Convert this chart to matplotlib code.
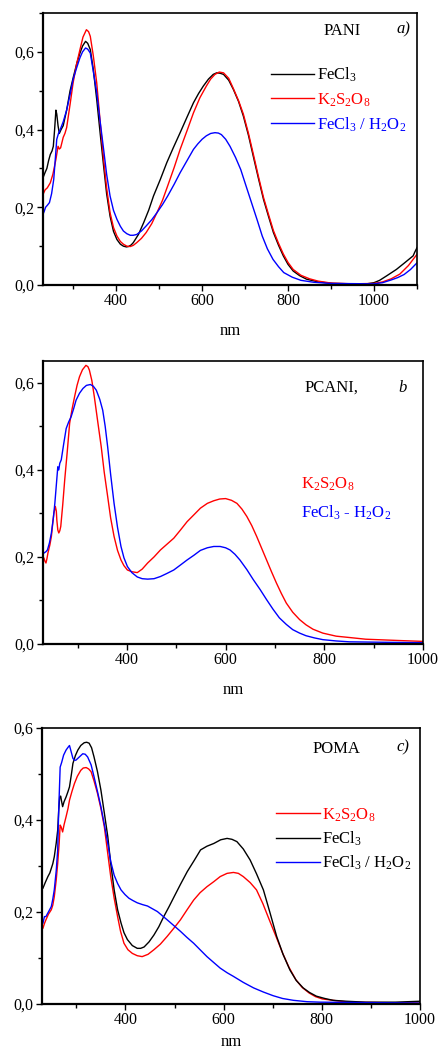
import matplotlib
matplotlib.use("Agg")
import matplotlib.pyplot as plt
from matplotlib.ticker import FuncFormatter, MultipleLocator

plt.rcParams['font.family'] = ['Liberation Serif', 'DejaVu Serif']
plt.rcParams['mathtext.fontset'] = 'custom'
plt.rcParams['mathtext.rm'] = 'Liberation Serif'
plt.rcParams['mathtext.it'] = 'Liberation Serif:italic'

# ---------------- Panel a: PANI ----------------
a_black_x = [230, 235, 239, 243, 247, 251, 254, 257, 260, 262, 265, 268, 272, 277, 281, 285, 293, 301, 309, 316,
             322, 329, 334, 340, 347, 355, 363, 371, 378, 386, 394, 402, 410, 417, 424, 429, 435, 440, 452, 464,
             476, 487, 503, 518, 533, 549, 565, 580, 592, 603, 615, 626, 634, 642, 650, 662, 673, 685, 696, 708,
             719, 731, 743, 755, 766, 778, 789, 800, 812, 827, 843, 870, 905, 950, 983, 1000, 1013, 1030, 1052,
             1070, 1091, 1095, 1100]
a_black_y = [0.276, 0.29, 0.30, 0.32, 0.336, 0.345, 0.357, 0.40, 0.45, 0.44, 0.41, 0.39, 0.40, 0.41, 0.43, 0.45,
             0.50, 0.537, 0.572, 0.597, 0.615, 0.627, 0.622, 0.606, 0.555, 0.477, 0.39, 0.306, 0.235, 0.177, 0.138,
             0.117, 0.105, 0.10, 0.098, 0.099, 0.103, 0.109, 0.13, 0.16, 0.193, 0.229, 0.272, 0.315, 0.353, 0.392,
             0.432, 0.469, 0.493, 0.512, 0.53, 0.542, 0.546, 0.545, 0.542, 0.527, 0.503, 0.472, 0.435, 0.385, 0.332,
             0.275, 0.22, 0.175, 0.135, 0.102, 0.075, 0.053, 0.036, 0.024, 0.015, 0.008, 0.004, 0.003, 0.003,
             0.006, 0.012, 0.024, 0.04, 0.056, 0.075, 0.085, 0.096]
a_red_x = [230, 235, 240, 247, 253, 260, 265, 268, 271, 277, 281, 285, 293, 300, 308, 316, 323, 331, 336, 340,
           347, 355, 363, 371, 378, 386, 394, 402, 410, 417, 425, 433, 440, 448, 459, 470, 483, 495, 508, 520,
           535, 549, 565, 580, 595, 610, 620, 630, 640, 650, 662, 673, 685, 696, 708, 719, 731, 743, 755, 766,
           778, 789, 800, 812, 830, 850, 870, 900, 950, 1000, 1020, 1040, 1060, 1080, 1100]
a_red_y = [0.233, 0.245, 0.25, 0.263, 0.285, 0.323, 0.357, 0.35, 0.353, 0.38, 0.39, 0.405, 0.465, 0.52, 0.568,
           0.606, 0.638, 0.657, 0.652, 0.64, 0.59, 0.52, 0.42, 0.323, 0.25, 0.186, 0.148, 0.126, 0.112, 0.105, 0.10,
           0.099, 0.102, 0.109, 0.12, 0.135, 0.158, 0.186, 0.218, 0.255, 0.302, 0.349, 0.397, 0.443, 0.482, 0.512,
           0.53, 0.542, 0.548, 0.546, 0.532, 0.505, 0.474, 0.44, 0.39, 0.338, 0.28, 0.225, 0.18, 0.14, 0.107, 0.08,
           0.058, 0.04, 0.025, 0.016, 0.01, 0.005, 0.003, 0.004, 0.008, 0.016, 0.028, 0.05, 0.079]
a_blue_x = [230, 233, 236, 240, 245, 250, 255, 259, 262, 266, 270, 277, 285, 293, 300, 308, 316, 322, 329, 334,
            340, 347, 355, 363, 371, 378, 386, 394, 402, 410, 417, 425, 433, 440, 448, 459, 470, 483, 495, 508,
            520, 535, 549, 565, 580, 590, 600, 610, 620, 630, 638, 645, 655, 665, 678, 690, 702, 715, 728, 740,
            752, 765, 778, 790, 810, 830, 860, 900, 1000, 1020, 1040, 1055, 1070, 1085, 1100]
a_blue_y = [0.182, 0.19, 0.20, 0.205, 0.212, 0.235, 0.272, 0.33, 0.375, 0.39, 0.40, 0.42, 0.45, 0.49, 0.529,
            0.558, 0.585, 0.60, 0.61, 0.607, 0.597, 0.55, 0.495, 0.42, 0.349, 0.285, 0.229, 0.192, 0.169, 0.151,
            0.139, 0.132, 0.128, 0.128, 0.13, 0.139, 0.152, 0.168, 0.186, 0.207, 0.229, 0.259, 0.289, 0.32, 0.349,
            0.363, 0.375, 0.384, 0.39, 0.392, 0.391, 0.387, 0.375, 0.357, 0.328, 0.297, 0.256, 0.212, 0.168, 0.126,
            0.093, 0.066, 0.047, 0.032, 0.02, 0.012, 0.007, 0.004, 0.003, 0.006, 0.013, 0.019, 0.027, 0.04, 0.057]

# ---------------- Panel b: PCANI ----------------
b_red_x = [232, 234, 236, 238, 240, 244, 247, 250, 252, 255, 257, 258, 260, 262, 264, 266, 270, 274, 279, 284,
           289, 294, 299, 304, 310, 317, 321, 324, 329, 334, 341, 348, 354, 361, 367, 374, 381, 388, 394, 401,
           410, 421, 431, 442, 455, 468, 481, 495, 508, 522, 536, 549, 563, 576, 588, 600, 612, 623, 633, 643,
           653, 663, 673, 683, 693, 703, 713, 723, 736, 750, 763, 777, 797, 824, 850, 884, 951, 1000]
b_red_y = [0.197, 0.19, 0.186, 0.196, 0.209, 0.228, 0.247, 0.28, 0.30, 0.316, 0.305, 0.285, 0.262, 0.255, 0.26,
           0.27, 0.32, 0.377, 0.44, 0.507, 0.54, 0.568, 0.594, 0.614, 0.63, 0.64, 0.637, 0.629, 0.605, 0.568, 0.51,
           0.453, 0.395, 0.339, 0.29, 0.247, 0.215, 0.193, 0.18, 0.17, 0.166, 0.164, 0.172, 0.186, 0.20, 0.216,
           0.229, 0.243, 0.261, 0.281, 0.297, 0.312, 0.323, 0.329, 0.333, 0.334, 0.33, 0.323, 0.31, 0.293, 0.272,
           0.247, 0.22, 0.193, 0.166, 0.14, 0.116, 0.094, 0.073, 0.056, 0.044, 0.034, 0.025, 0.018, 0.015, 0.011,
           0.008, 0.006]
b_blue_x = [232, 236, 239, 243, 247, 251, 254, 257, 260, 261, 262, 264, 267, 272, 277, 282, 287, 292, 297, 304,
            311, 318, 326, 332, 338, 345, 351, 356, 361, 367, 374, 381, 388, 394, 401, 410, 421, 431, 442, 455,
            468, 481, 495, 508, 522, 536, 549, 563, 576, 589, 600, 609, 619, 629, 643, 656, 670, 683, 696, 709,
            723, 736, 750, 763, 780, 797, 824, 851, 918, 1000]
b_blue_y = [0.209, 0.212, 0.216, 0.232, 0.255, 0.29, 0.323, 0.365, 0.407, 0.40, 0.40, 0.415, 0.423, 0.46, 0.495,
            0.51, 0.522, 0.54, 0.56, 0.576, 0.587, 0.594, 0.596, 0.592, 0.583, 0.562, 0.537, 0.50, 0.453, 0.39,
            0.323, 0.268, 0.224, 0.198, 0.178, 0.164, 0.154, 0.15, 0.149, 0.15, 0.155, 0.162, 0.17, 0.181, 0.193,
            0.204, 0.215, 0.221, 0.224, 0.224, 0.221, 0.216, 0.206, 0.193, 0.171, 0.148, 0.125, 0.102, 0.08, 0.06,
            0.045, 0.033, 0.025, 0.019, 0.014, 0.01, 0.007, 0.005, 0.004, 0.003]

# ---------------- Panel c: POMA ----------------
c_black_x = [232, 237, 242, 246, 249, 252, 255, 259, 262, 264, 266, 268, 270, 272, 275, 279, 283, 286, 290, 293,
             298, 303, 309, 316, 321, 326, 331, 336, 343, 350, 357, 364, 370, 377, 384, 391, 397, 404, 414, 424,
             431, 438, 448, 458, 468, 478, 489, 499, 512, 526, 540, 553, 566, 580, 594, 607, 617, 627, 640, 654,
             667, 681, 694, 708, 721, 735, 748, 762, 775, 789, 806, 823, 850, 889, 950, 1000]
c_black_y = [0.252, 0.265, 0.277, 0.285, 0.295, 0.305, 0.32, 0.35, 0.378, 0.42, 0.45, 0.452, 0.44, 0.429, 0.44,
             0.45, 0.462, 0.472, 0.50, 0.523, 0.54, 0.552, 0.562, 0.568, 0.569, 0.567, 0.557, 0.537, 0.505, 0.465,
             0.415, 0.364, 0.305, 0.248, 0.205, 0.176, 0.155, 0.14, 0.127, 0.121, 0.121, 0.124, 0.135, 0.15, 0.168,
             0.19, 0.212, 0.233, 0.26, 0.288, 0.312, 0.335, 0.343, 0.349, 0.357, 0.36, 0.358, 0.353, 0.337, 0.313,
             0.283, 0.248, 0.20, 0.147, 0.108, 0.074, 0.051, 0.035, 0.025, 0.017, 0.012, 0.008, 0.006, 0.004, 0.004,
             0.006]
c_red_x = [232, 235, 238, 243, 249, 252, 255, 259, 262, 265, 267, 269, 272, 275, 279, 283, 286, 291, 296, 302,
           309, 314, 320, 325, 330, 336, 343, 350, 357, 363, 370, 377, 384, 390, 397, 405, 414, 424, 434, 446,
           458, 471, 485, 498, 512, 525, 539, 552, 566, 580, 593, 607, 620, 630, 640, 654, 667, 680, 693, 707,
           720, 733, 747, 760, 774, 787, 801, 830, 857, 920, 1000]
c_red_y = [0.165, 0.175, 0.183, 0.195, 0.205, 0.215, 0.233, 0.27, 0.306, 0.35, 0.389, 0.385, 0.374, 0.39, 0.407,
           0.425, 0.443, 0.462, 0.479, 0.495, 0.508, 0.513, 0.514, 0.511, 0.505, 0.485, 0.458, 0.425, 0.385, 0.335,
           0.277, 0.23, 0.19, 0.158, 0.132, 0.118, 0.11, 0.105, 0.103, 0.108, 0.118, 0.13, 0.147, 0.164, 0.183,
           0.204, 0.226, 0.242, 0.255, 0.266, 0.277, 0.284, 0.286, 0.284, 0.277, 0.264, 0.248, 0.218, 0.183, 0.146,
           0.111, 0.08, 0.053, 0.036, 0.024, 0.016, 0.011, 0.007, 0.004, 0.003, 0.002]
c_blue_x = [232, 235, 238, 243, 249, 252, 255, 259, 262, 264, 267, 270, 274, 279, 283, 286, 289, 293, 296, 299,
            305, 313, 318, 323, 330, 336, 343, 350, 357, 364, 370, 377, 384, 391, 399, 407, 415, 424, 435, 445,
            455, 465, 475, 485, 498, 512, 525, 539, 552, 566, 580, 593, 607, 620, 640, 661, 681, 701, 720, 742,
            770, 796, 900, 1000]
c_blue_y = [0.176, 0.19, 0.19, 0.20, 0.212, 0.228, 0.248, 0.29, 0.335, 0.42, 0.515, 0.525, 0.541, 0.552, 0.558,
            0.562, 0.55, 0.534, 0.53, 0.53, 0.536, 0.544, 0.543, 0.537, 0.52, 0.494, 0.462, 0.429, 0.39, 0.349,
            0.31, 0.28, 0.262, 0.248, 0.238, 0.23, 0.225, 0.22, 0.216, 0.213, 0.207, 0.201, 0.192, 0.183, 0.171,
            0.158, 0.145, 0.132, 0.118, 0.103, 0.09, 0.078, 0.068, 0.06, 0.047, 0.035, 0.026, 0.018, 0.012, 0.008,
            0.005, 0.004, 0.003, 0.002]

BLACK, RED, BLUE = '#000000', '#ff0000', '#0000ff'
lw = 1.0

W, H = 439, 1051
fig = plt.figure(figsize=(W / 100, H / 100), dpi=100)


def make_ax(l, t, r, b):
    return fig.add_axes([l / W, 1 - b / H, (r - l) / W, (b - t) / H])


comma = FuncFormatter(lambda v, p: f"{v:.1f}".replace('.', ','))


def style(ax, xlim, ylim, xticks):
    ax.set_xlim(*xlim)
    ax.set_ylim(*ylim)
    ax.set_xticks(xticks)
    ax.xaxis.set_minor_locator(MultipleLocator(100))
    ax.set_yticks([0.0, 0.2, 0.4, 0.6])
    ax.yaxis.set_minor_locator(MultipleLocator(0.1))
    ax.yaxis.set_major_formatter(comma)
    ax.tick_params(which='major', direction='out', length=4, width=1, labelsize=11.5, pad=2)
    ax.tick_params(which='minor', direction='out', length=3, width=1)
    ax.tick_params(top=False, right=False)
    for s in ax.spines.values():
        s.set_linewidth(1.2)
    ax.spines['left'].set_linewidth(1.6)
    ax.spines['bottom'].set_linewidth(1.6)
    ax.set_xlabel('nm', fontsize=12, labelpad=10)


# Panel a
ax1 = make_ax(43, 13, 417, 285)
ax1.plot(a_black_x, a_black_y, color=BLACK, lw=lw, label='FeCl$_3$')
ax1.plot(a_red_x, a_red_y, color=RED, lw=lw, label='K$_2$S$_2$O$_8$')
ax1.plot(a_blue_x, a_blue_y, color=BLUE, lw=lw, label='FeCl$_3$ / H$_2$O$_2$')
style(ax1, (230, 1100), (0, 0.70), [400, 600, 800, 1000])
ax1.text(0.80, 0.935, 'PANI', transform=ax1.transAxes, fontsize=12, ha='center', va='center')
ax1.text(0.965, 0.94, 'a)', transform=ax1.transAxes, fontsize=12, style='italic', ha='center', va='center')
ax1.legend(loc='upper left', bbox_to_anchor=(0.61, 0.805), frameon=False, fontsize=12,
           handlelength=2.6, handletextpad=0.15, labelspacing=0.4, labelcolor='linecolor',
           borderaxespad=0, borderpad=0)

# Panel b
ax2 = make_ax(43, 361, 423, 644)
ax2.plot(b_red_x, b_red_y, color=RED, lw=lw)
ax2.plot(b_blue_x, b_blue_y, color=BLUE, lw=lw)
style(ax2, (230, 1000), (0, 0.65), [400, 600, 800, 1000])
ax2.text(0.76, 0.905, 'PCANI,', transform=ax2.transAxes, fontsize=12, ha='center', va='center')
ax2.text(0.945, 0.905, 'b', transform=ax2.transAxes, fontsize=12, style='italic', ha='center', va='center')
ax2.text(0.68, 0.565, 'K$_2$S$_2$O$_8$', transform=ax2.transAxes, fontsize=12, color=RED, ha='left', va='center')
ax2.text(0.68, 0.465, 'FeCl$_3$ - H$_2$O$_2$', transform=ax2.transAxes, fontsize=12, color=BLUE, ha='left', va='center')

# Panel c
ax3 = make_ax(42, 728, 420, 1004)
ax3.plot(c_red_x, c_red_y, color=RED, lw=lw, label='K$_2$S$_2$O$_8$')
ax3.plot(c_black_x, c_black_y, color=BLACK, lw=lw, label='FeCl$_3$')
ax3.plot(c_blue_x, c_blue_y, color=BLUE, lw=lw, label='FeCl$_3$ / H$_2$O$_2$')
style(ax3, (230, 1000), (0, 0.60), [400, 600, 800, 1000])
ax3.text(0.78, 0.925, 'POMA', transform=ax3.transAxes, fontsize=12, ha='center', va='center')
ax3.text(0.955, 0.93, 'c)', transform=ax3.transAxes, fontsize=12, style='italic', ha='center', va='center')
leg3 = ax3.legend(loc='upper left', bbox_to_anchor=(0.62, 0.717), frameon=False, fontsize=12,
                  handlelength=2.6, handletextpad=0.15, labelspacing=0.35, borderaxespad=0, borderpad=0)
for t, c in zip(leg3.get_texts(), [RED, BLACK, BLACK]):
    t.set_color(c)
ax3.xaxis.labelpad = 4

fig.savefig('out.png', dpi=100)
